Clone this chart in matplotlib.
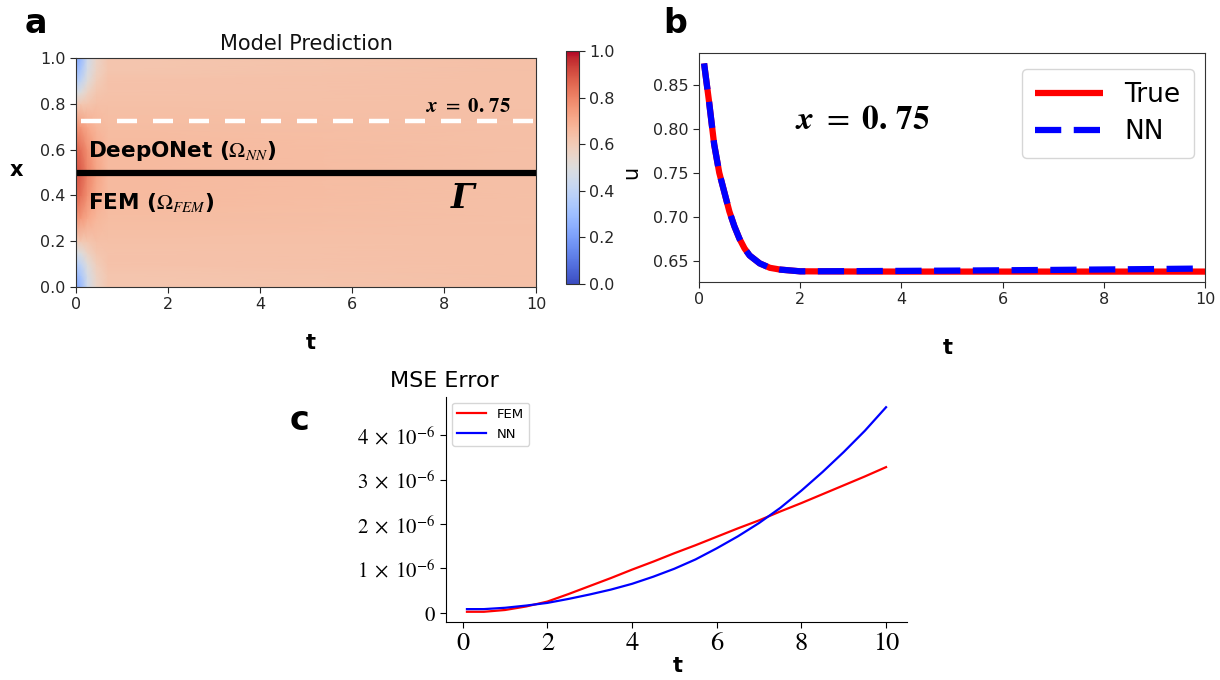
import numpy as np
import matplotlib
matplotlib.use("Agg")
import matplotlib.pyplot as plt
from matplotlib.ticker import FixedLocator, FixedFormatter

plt.rcParams['mathtext.fontset'] = 'stix'
plt.rcParams['font.family'] = ['DejaVu Sans']

# ---------------- data ----------------
# panel a: u(x, t) field
heat_t = [0.0, 0.1, 0.25, 0.45, 0.7, 10.0]
heat_x = [0.0, 0.05, 0.1, 0.15, 0.2, 0.3, 0.4, 0.5, 0.6, 0.7, 0.8, 0.85, 0.9, 0.95, 1.0]
heat_u_t0 = [0.22, 0.28, 0.36, 0.48, 0.60, 0.76, 0.86, 0.90, 0.86, 0.76, 0.60, 0.48, 0.36, 0.28, 0.22]
heat_u_t01 = [0.28, 0.33, 0.40, 0.50, 0.61, 0.75, 0.84, 0.88, 0.84, 0.75, 0.61, 0.50, 0.40, 0.33, 0.28]
heat_u_t025 = [0.45, 0.47, 0.51, 0.57, 0.62, 0.71, 0.77, 0.80, 0.77, 0.71, 0.62, 0.57, 0.51, 0.47, 0.45]
heat_u_t045 = [0.56, 0.57, 0.59, 0.62, 0.64, 0.67, 0.70, 0.72, 0.70, 0.67, 0.64, 0.62, 0.59, 0.57, 0.56]
heat_u_t07 = [0.62, 0.62, 0.63, 0.63, 0.64, 0.65, 0.66, 0.66, 0.66, 0.65, 0.64, 0.63, 0.63, 0.62, 0.62]
heat_u_t10 = [0.64, 0.64, 0.64, 0.64, 0.64, 0.64, 0.64, 0.64, 0.64, 0.64, 0.64, 0.64, 0.64, 0.64, 0.64]

# panel b: u at x = 0.75
b_t = [0.1, 0.2, 0.3, 0.4, 0.5, 0.6, 0.7, 0.8, 0.9, 1.0, 1.2, 1.4, 1.6, 1.8, 2.0,
       3.0, 4.0, 5.0, 6.0, 7.0, 8.0, 9.0, 10.0]
b_true = [0.874, 0.830, 0.782, 0.750, 0.728, 0.706, 0.689, 0.675, 0.664, 0.656, 0.647,
          0.642, 0.640, 0.639, 0.638, 0.6378, 0.6377, 0.6377, 0.6377, 0.6377, 0.6377, 0.6377, 0.6377]
b_nn = [0.874, 0.830, 0.782, 0.750, 0.728, 0.706, 0.689, 0.675, 0.664, 0.656, 0.647,
        0.642, 0.640, 0.639, 0.638, 0.6382, 0.6385, 0.6388, 0.6392, 0.6396, 0.6401, 0.6406, 0.6412]

# panel c: MSE error (units of 1e-6)
c_t = [0.1, 0.5, 1.0, 1.5, 2.0, 2.5, 3.0, 3.5, 4.0, 4.5, 5.0, 5.5, 6.0, 6.5, 7.0,
       7.5, 8.0, 8.5, 9.0, 9.5, 10.0]
c_fem = [0.02, 0.02, 0.06, 0.14, 0.25, 0.42, 0.60, 0.78, 0.97, 1.15, 1.34, 1.52, 1.71,
         1.90, 2.08, 2.28, 2.47, 2.67, 2.87, 3.07, 3.28]
c_nn = [0.08, 0.08, 0.11, 0.16, 0.22, 0.31, 0.41, 0.52, 0.65, 0.81, 0.99, 1.20, 1.45,
        1.72, 2.02, 2.36, 2.75, 3.17, 3.62, 4.10, 4.63]
c_yticks = [0, 1e-6, 2e-6, 3e-6, 4e-6]
c_yticklabels = ['$0$', r'$1\;\times\;10^{-6}$', r'$2\;\times\;10^{-6}$',
                 r'$3\;\times\;10^{-6}$', r'$4\;\times\;10^{-6}$']
ticks_t = [0, 2, 4, 6, 8, 10]

W, H = 1220, 680
fig = plt.figure(figsize=(W / 100, H / 100), dpi=100)


def box(l, t, r, b):
    return [l / W, 1 - b / H, (r - l) / W, (b - t) / H]


tickcol = '#262626'
xlabel_math = r'$\mathbfit{x}\ =\ \mathbf{0.\,75}$'

# ---------------- panel a ----------------
axa = fig.add_axes(box(76, 58, 536, 287))
U = np.array([heat_u_t0, heat_u_t01, heat_u_t025, heat_u_t045, heat_u_t07, heat_u_t10]).T
TT, XX = np.meshgrid(heat_t, heat_x)
pcm = axa.pcolormesh(TT, XX, U, cmap='coolwarm', vmin=0, vmax=1, shading='gouraud')
axa.set_xlim(0, 10)
axa.set_ylim(0, 1)
axa.set_xticks(ticks_t)
axa.set_yticks([0, 0.2, 0.4, 0.6, 0.8, 1.0])
axa.set_yticklabels(['0.0', '0.2', '0.4', '0.6', '0.8', '1.0'])
axa.tick_params(labelsize=11.5, colors=tickcol, length=4)
for s in axa.spines.values():
    s.set_color('#333333')
axa.set_title('Model Prediction', fontsize=15, pad=6, color='#111111')
axa.plot([0.1, 10], [0.725, 0.725], color='white', lw=3.2, linestyle=(0, (4.5, 3.6)))
axa.plot([0, 10], [0.5, 0.5], color='black', lw=4.5, clip_on=False, solid_capstyle='butt')
axa.text(0.26, 0.595, r'DeepONet ($\Omega_{NN}$)', fontsize=15.5, fontweight='bold',
         va='center', ha='left')
axa.text(0.26, 0.37, r'FEM ($\Omega_{FEM}$)', fontsize=15.5, fontweight='bold',
         va='center', ha='left')
axa.text(7.6, 0.79, xlabel_math, fontsize=15, va='center', ha='left')
axa.text(8.15, 0.385, 'Γ', fontsize=24, fontfamily='DejaVu Serif', style='italic',
         fontweight='bold', va='center', ha='left')

cax = fig.add_axes(box(566, 51, 579, 284))
cb = fig.colorbar(pcm, cax=cax)
cb.set_ticks([0, 0.2, 0.4, 0.6, 0.8, 1.0])
cb.set_ticklabels(['0.0', '0.2', '0.4', '0.6', '0.8', '1.0'])
cax.tick_params(labelsize=11.5, colors=tickcol, length=4)
cb.outline.set_edgecolor('#333333')

fig.text(25 / W, 1 - 33 / H, 'a', fontsize=24, fontweight='bold', ha='left', va='baseline')
fig.text(16 / W, 1 - 170 / H, 'x', fontsize=15, fontweight='bold', ha='center', va='center')
fig.text(311 / W, 1 - 343 / H, 't', fontsize=15, fontweight='bold', ha='center', va='center')

# ---------------- panel b ----------------
axb = fig.add_axes(box(699, 53, 1205, 282))
axb.plot(b_t, b_true, color='red', lw=4.5, label='True', solid_capstyle='butt')
axb.plot(b_t, b_nn, color='blue', lw=4.5, linestyle=(0, (4.2, 2.0)), label='NN')
axb.set_xlim(0, 10)
axb.set_xticks(ticks_t)
axb.set_yticks([0.65, 0.70, 0.75, 0.80, 0.85])
axb.set_yticklabels(['0.65', '0.70', '0.75', '0.80', '0.85'])
axb.tick_params(labelsize=11.5, colors=tickcol, length=4)
for s in axb.spines.values():
    s.set_color('#333333')
axb.text(1.9, 0.81, xlabel_math, fontsize=24, va='center', ha='left')
lg = axb.legend(loc='upper right', fontsize=19, handlelength=2.6, borderpad=0.5,
                labelspacing=0.4, borderaxespad=0, bbox_to_anchor=(0.978, 0.93))
lg.get_frame().set_edgecolor('#cccccc')
fig.text(663 / W, 1 - 33 / H, 'b', fontsize=24, fontweight='bold', ha='left', va='baseline')
fig.text(631 / W, 1 - 172 / H, 'u', fontsize=15, rotation=90, ha='center', va='center')
fig.text(948 / W, 1 - 348 / H, 't', fontsize=15, fontweight='bold', ha='center', va='center')

# ---------------- panel c ----------------
axc = fig.add_axes(box(446, 397, 907, 622))
axc.plot(c_t, np.array(c_fem) * 1e-6, color='red', lw=1.6, label='FEM')
axc.plot(c_t, np.array(c_nn) * 1e-6, color='blue', lw=1.6, label='NN')
axc.spines['top'].set_visible(False)
axc.spines['right'].set_visible(False)
axc.set_xticks(ticks_t)
axc.set_xticklabels([str(v) for v in ticks_t], fontfamily='STIXGeneral', fontsize=19)
axc.yaxis.set_major_locator(FixedLocator(c_yticks))
axc.yaxis.set_major_formatter(FixedFormatter(c_yticklabels))
axc.tick_params(axis='y', labelsize=15, length=4)
axc.tick_params(axis='x', length=4, pad=3)
lgc = axc.legend(loc='upper left', fontsize=9.5, handlelength=2.2, borderaxespad=0,
                 bbox_to_anchor=(0.013, 0.975))
lgc.get_frame().set_edgecolor('#cccccc')
fig.text(390 / W, 1 - 387 / H, 'MSE Error', fontsize=16, ha='left', va='baseline')
fig.text(290 / W, 1 - 430 / H, 'c', fontsize=24, fontweight='bold', ha='left', va='baseline')
fig.text(678 / W, 1 - 666 / H, 't', fontsize=15, fontweight='bold', ha='center', va='center')

fig.savefig('out.png', dpi=100)
